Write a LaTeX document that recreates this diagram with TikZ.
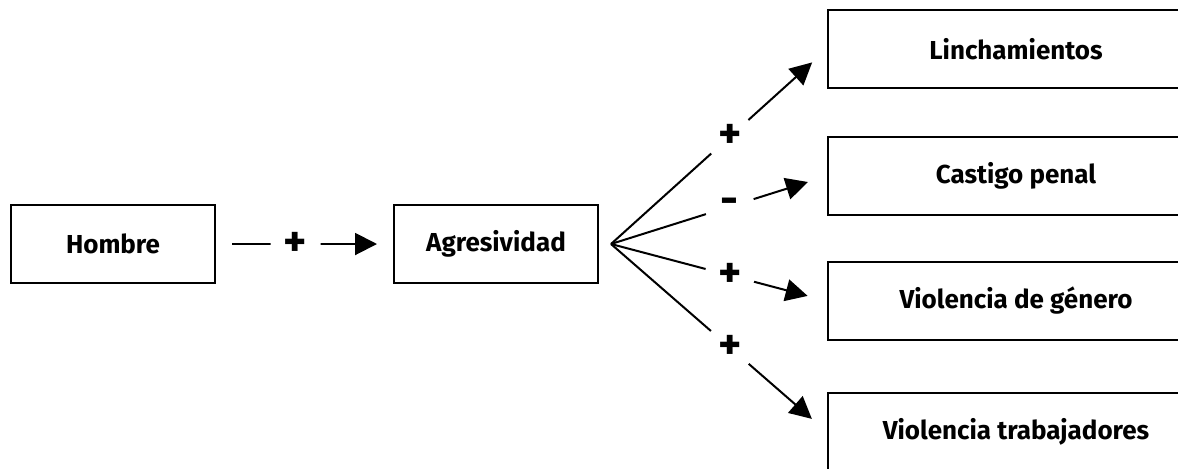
\documentclass[tikz,border=0pt]{standalone}
\usepackage{fontspec}
\setmainfont{Fira Sans}
\usetikzlibrary{arrows.meta, positioning}

\begin{document}
\begin{tikzpicture}[x=0.5pt, y=-0.5pt, line width=1pt,
    box/.style = {draw, minimum width=102pt, minimum height=39pt, font=\bfseries\fontsize{13}{15}\selectfont},
    outbox/.style = {box, minimum width=188pt},
    sign/.style = {circle, fill=white, minimum size=25pt, inner sep=0pt, font=\bfseries\fontsize{22}{22}\selectfont},
    link/.style = {-{Triangle[length=11pt, width=11pt]}}]

  \useasboundingbox (0,0) rectangle (1178,468);

  \node[box] (HO) at (113,244) {Hombre};
  \node[box] (AG) at (496,244) {Agresividad};
  \coordinate (FAN) at ([xshift=6pt]AG.east);

  \draw[link, shorten <=8pt, shorten >=8pt] (HO) -- node[sign, pos=0.45] {+} (AG);

  \foreach \id/\y/\txt/\sg in {LI/49/Linchamientos/+, CP/176/Castigo penal/-,
                               VG/301/Violencia de género/+, VT/432/Violencia trabajadores/+} {
    \node[outbox] (\id) at (1016,\y) {\txt};
    \draw[link, shorten >=10pt] (FAN) -- node[sign, pos=0.55] {\sg} (\id.west);
  }
\end{tikzpicture}
\end{document}
